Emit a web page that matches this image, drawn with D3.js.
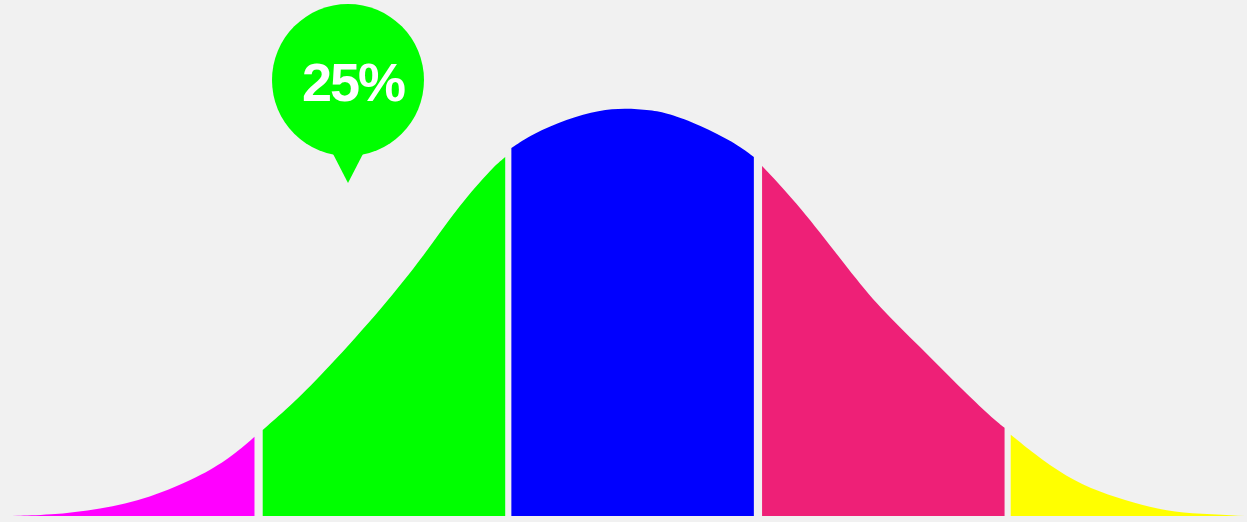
<!DOCTYPE html>
<html>
<head>
<meta charset="utf-8">
<script src="https://cdn.jsdelivr.net/npm/d3@7"></script>
<style>
html,body{margin:0;padding:0;background:#f1f1f1;}
svg{display:block;}
</style>
</head>
<body>
<svg id="chart" width="1247" height="522"></svg>
<script>
// Segment data: x in standard-deviation units, y as % of peak height
const magenta = [[-3,0],[-2.82,0.2],[-2.57,1.6],[-2.33,4.4],[-2.09,9.6],[-1.94,14.2],[-1.82,19.4]];
const green   = [[-1.78,21.1],[-1.63,27.7],[-1.47,35.8],[-1.19,51.5],[-1.00,63.5],[-0.82,76.4],[-0.66,85.5],[-0.60,88.0]];
const blue    = [[-0.57,90.2],[-0.47,93.6],[-0.30,97.3],[-0.14,99.5],[-0.02,100],[0.11,99.5],[0.19,98.8],[0.35,95.8],[0.51,91.7],[0.61,88.0]];
const pink    = [[0.65,85.8],[0.83,76.2],[1.08,59.8],[1.22,51.2],[1.42,41.4],[1.61,31.6],[1.77,24.0],[1.83,21.6]];
const yellow  = [[1.86,19.9],[1.97,15.4],[2.13,9.6],[2.29,5.9],[2.46,3.2],[2.62,1.2],[2.78,0.5],[3,0]];
const segments = [magenta, green, blue, pink, yellow];
const colors = ["#ff00ff","#00ff00","#0000ff","#ee2077","#ffff00"];
const labelText = "25%";
const labelAt = [-1.365, 81.6];   // tip of the callout (x, y in data units)

const svg = d3.select("#chart");
const x = d3.scaleLinear().domain([-3,3]).range([12,1245]);
const y = d3.scaleLinear().domain([0,100]).range([516,108]);

const area = d3.area()
  .x(d => x(d[0]))
  .y0(y(0))
  .y1(d => y(d[1]))
  .curve(d3.curveBasis);

svg.selectAll("path.seg")
  .data(segments)
  .join("path")
  .attr("class","seg")
  .attr("d", area)
  .attr("fill", (d,i) => colors[i]);

// Callout bubble
const tipX = x(labelAt[0]), tipY = y(labelAt[1]);
const r = 76, cx = tipX, cy = tipY - 103;
const g = svg.append("g");
g.append("circle").attr("cx", cx).attr("cy", cy).attr("r", r).attr("fill", "#00ff00");
g.append("path")
  .attr("d", `M${cx-17},${cy+70} L${cx+17},${cy+70} L${tipX},${tipY} Z`)
  .attr("fill", "#00ff00");
g.append("text")
  .attr("x", cx + 5)
  .attr("y", cy + 21)
  .attr("text-anchor", "middle")
  .attr("font-family", "Liberation Sans, Arial, sans-serif")
  .attr("font-weight", "bold")
  .attr("font-size", 54)
  .attr("letter-spacing", -2)
  .attr("fill", "#ffffff")
  .text(labelText);
</script>
</body>
</html>
